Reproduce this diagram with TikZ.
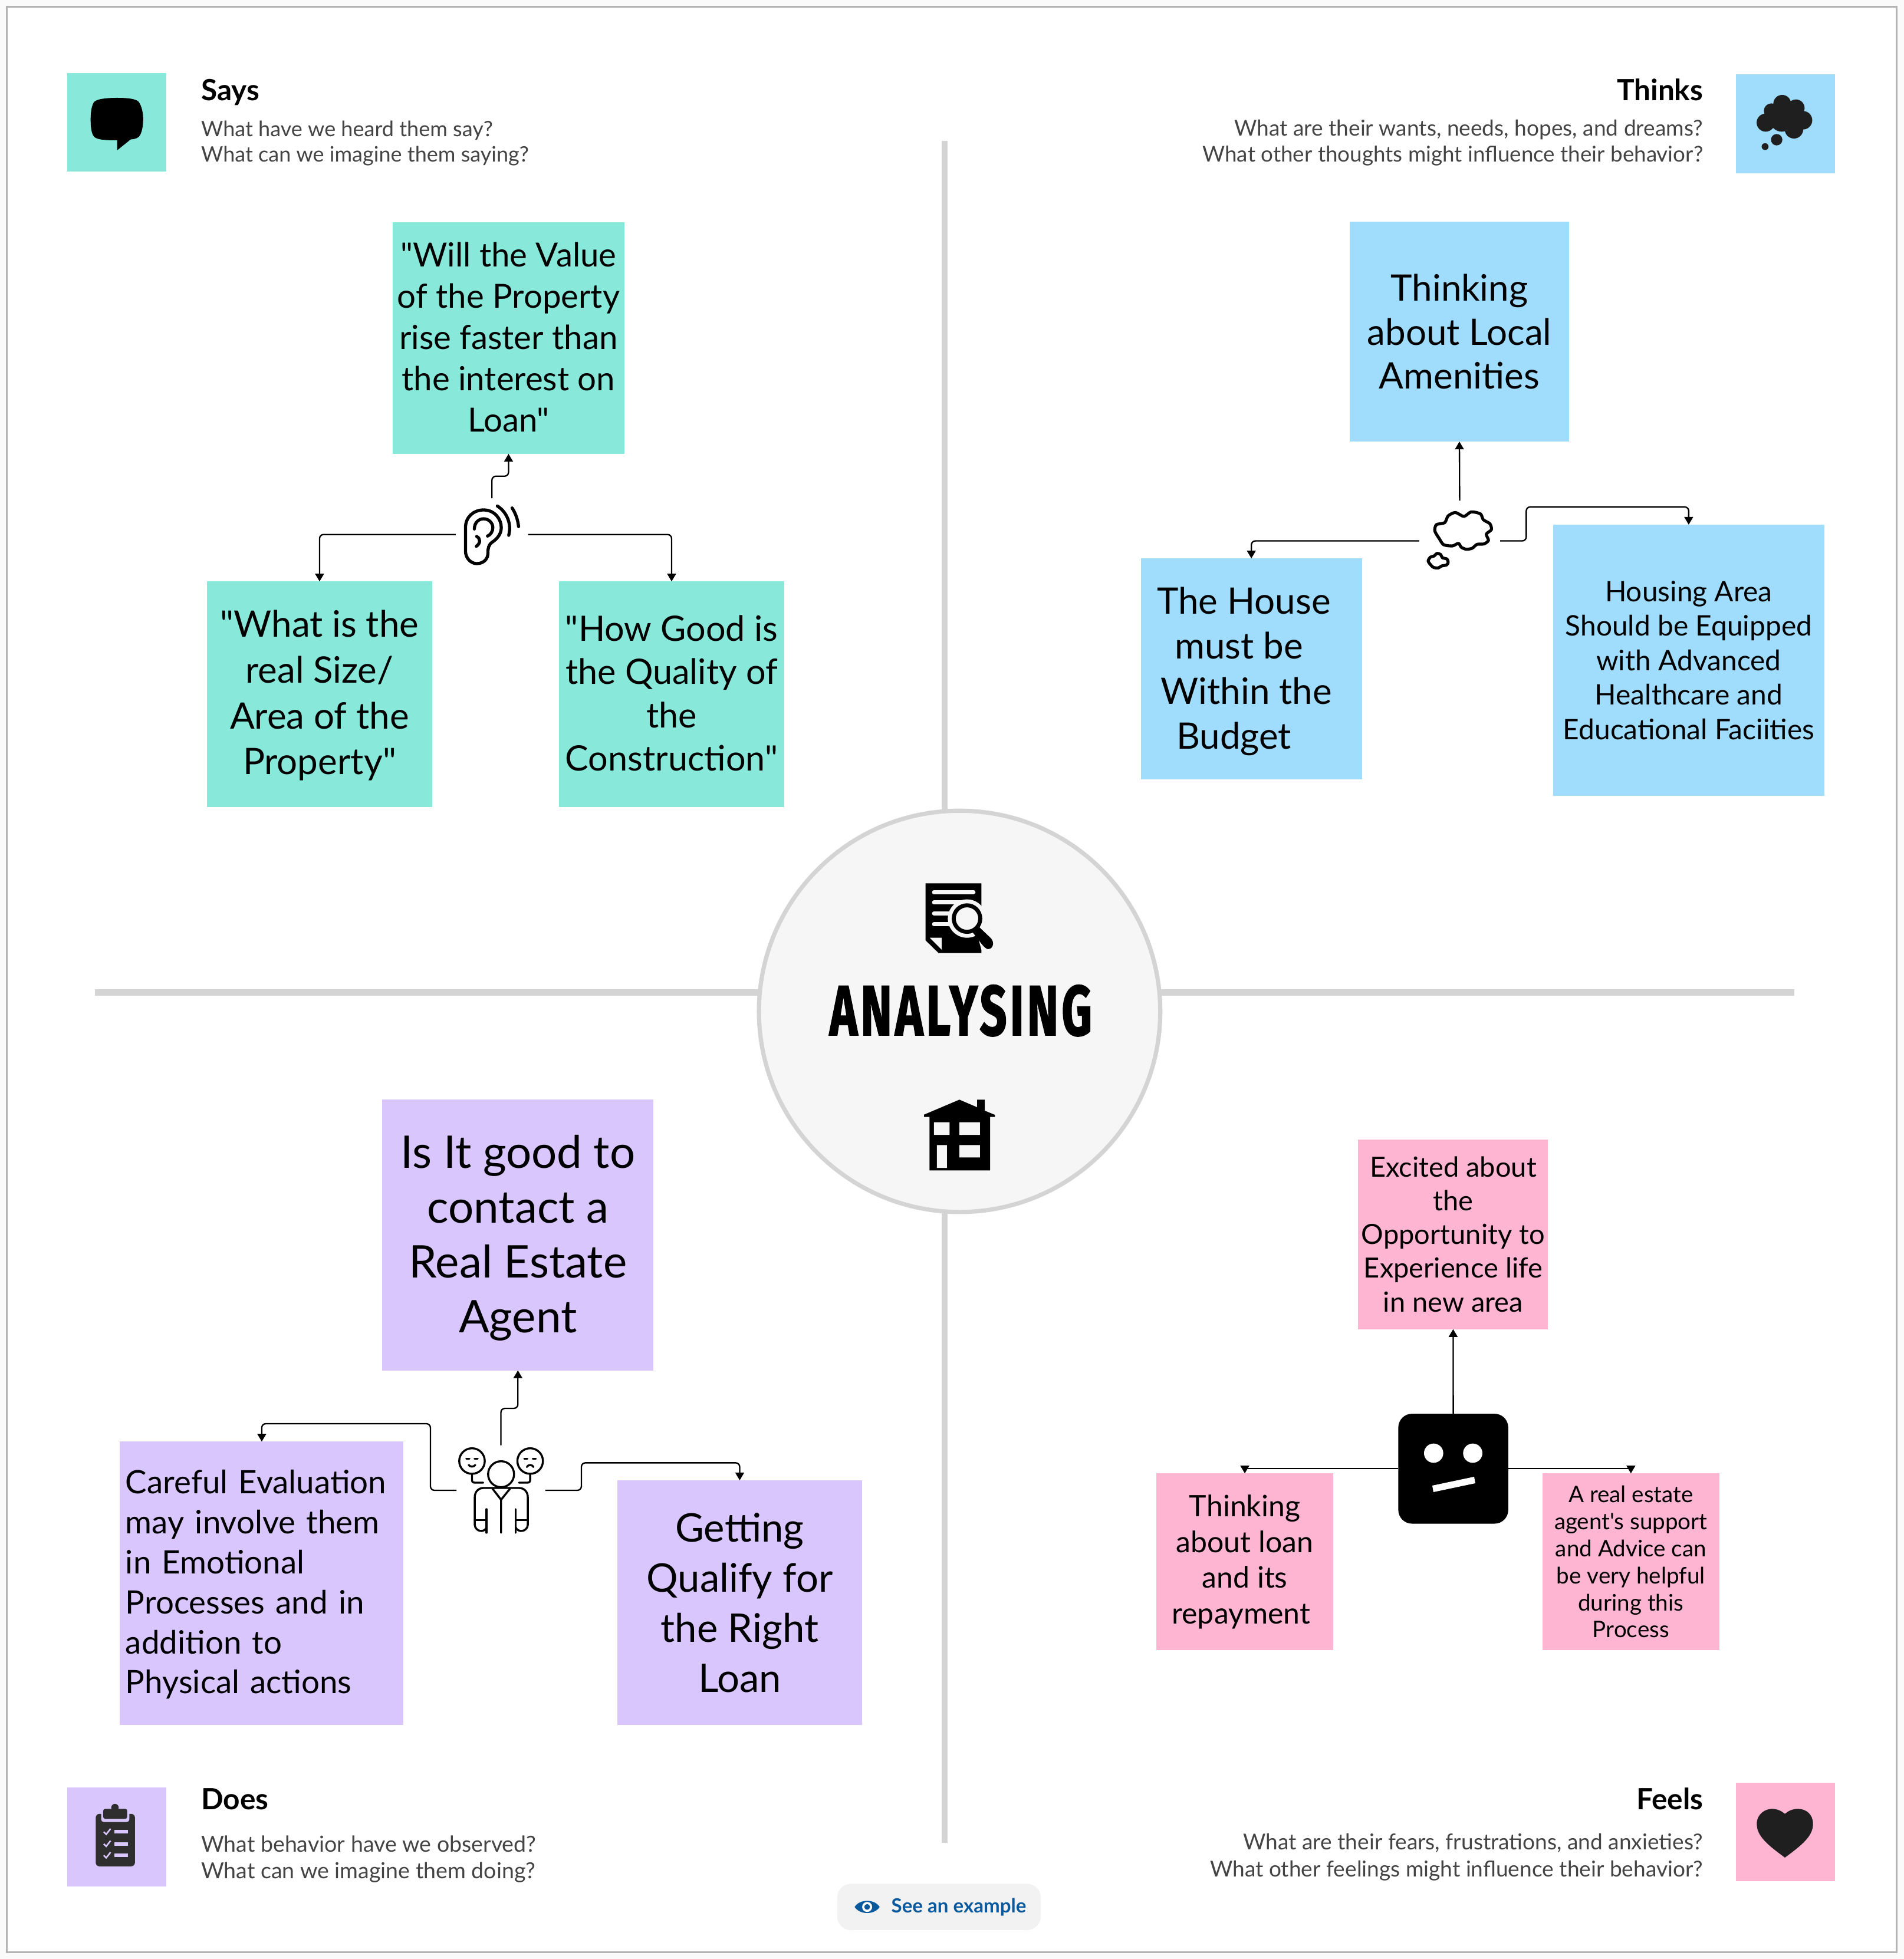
\documentclass[tikz,border=0pt]{standalone}
\usepackage{fontspec}
\usepackage{graphicx}
\usetikzlibrary{arrows.meta}
\setmainfont{Lato}
\newfontfamily\lato{Lato}
\newfontfamily\titlefont[FakeBold=2,LetterSpace=7]{Fira Sans}
\definecolor{teal}{HTML}{88E8DA}
\definecolor{sky}{HTML}{A0DCFB}
\definecolor{pinkb}{HTML}{FDB5D2}
\definecolor{lilac}{HTML}{D8C6FD}
\definecolor{rulegray}{HTML}{D4D4D4}
\definecolor{framegray}{HTML}{B3B3B3}
\definecolor{bgc}{HTML}{F6F6F6}
\definecolor{subtxt}{HTML}{444444}
\definecolor{icondark}{HTML}{1F1F1F}
\definecolor{linkblue}{HTML}{0B5A9E}
\newcommand\fz[2]{\lato\fontsize{#1pt}{#2pt}\selectfont}
\newcommand\dn[2]{\setbox0=\hbox{#2}\rule{0pt}{\dimexpr\ht0+#1\relax}\box0}
\tikzset{
  x=0.5pt,y=-0.5pt,
  note/.style={inner sep=0pt,outer sep=0pt,align=center,text=black},
  conn/.style={line width=0.55pt,rounded corners=1.6pt,-{Triangle[length=3.1pt,width=3.5pt]}},
  slot/.style={inner sep=0pt,outer sep=0pt},
  ttl/.style={inner sep=0pt,outer sep=0pt,font=\bfseries\fz{11.7}{13}},
  sub/.style={inner sep=0pt,outer sep=0pt,text=subtxt,font=\fz{8.75}{10.3}},
  divider/.style={rulegray,line width=2.5pt},
  iconline/.style={line cap=round,line join=round},
}
\begin{document}
\begin{tikzpicture}
\useasboundingbox (0,0) rectangle (1523.8,1568.2);
\fill[fill=black!2] (0,0) rectangle (1523.8,1568.2);
\draw[framegray,fill=white,line width=0.65pt] (5.6,5.5) rectangle (1518,1562.8);
% dividers
\coordinate (vt) at (756,113);\coordinate (vb) at (756,1475);
\coordinate (hl) at (76,794.5);\coordinate (hr) at (1436,794.5);
\draw[divider] (vt)--(vb);
\draw[divider] (hl)--(hr);
\node[circle,draw=rulegray,fill=bgc,line width=1.7pt,minimum size=160.6pt,inner sep=0pt,outer sep=0pt] (hub) at (768,809.6) {};
% hub icons (zoom coordinates)
\begin{scope}[shift={(589.9,637.1)},scale=0.2258]
 \fill[black] (668,310)--(866,310)--(866,557)--(714,557)--(668,512)--cycle;
 \draw[bgc,line width=1.6pt,line cap=round] (698,341)--(838,341) (698,378)--(800,378) (698,417)--(760,417) (698,455)--(760,455);
 \fill[bgc] (683,503)--(725,503)--(725,545)--cycle;
 \fill[bgc] (815,435) circle (68);
 \fill[bgc] (845,470)--(880,440)--(930,500)--(930,560)--(866,545)--cycle;
 \draw[black,line width=1.6pt] (815,435) circle (47);
 \fill[black] (858,465)--(900,505) .. controls (915,522) and (905,545) .. (888,543) .. controls (875,540) and (860,515) .. (836,485)--cycle;
 \fill[black] (663,1130)--(788,1077)--(851,1104)--(851,1077)--(878,1077)--(878,1116)--(914,1131)--(914,1138)--(897,1138)--(897,1328)--(682,1328)--(682,1138)--(663,1138)--cycle;
 \fill[bgc] (698,1157) rectangle (753,1202) (788,1157) rectangle (861,1202) (708,1238) rectangle (744,1319) (788,1238) rectangle (861,1282);
\end{scope}
\node[inner sep=0pt] (hubtitle) at (769,809) {\resizebox{105pt}{20pt}{\titlefont\bfseries ANALYSING}};
% Says
\node[note,fill=teal,minimum size=39.5pt] (saysbox) at (93.5,98) {};
\begin{scope}[shift={(0,0)},xscale=0.3312,yscale=0.1573]
 \fill[black] (283,498) .. controls (310,498) and (328,503) .. (335,518) .. controls (343,540) and (346,580) .. (346,605) .. controls (346,640) and (343,680) .. (335,697) .. controls (328,708) and (320,709) .. (316,709) -- (283,765) -- (283,714) .. controls (250,714) and (235,710) .. (228,697) .. controls (220,680) and (219,640) .. (219,605) .. controls (219,570) and (222,530) .. (228,518) .. controls (235,503) and (258,498) .. (283,498) -- cycle;
\end{scope}
\node[ttl,anchor=base west] (saysttl) at (161,80.5) {Says};
\node[sub,font=\fz{8.5}{10.3},anchor=base west] (says1) at (161,109.2) {What have we heard them say?};
\node[sub,font=\fz{8.5}{10.3},anchor=base west] (says2) at (161,129.7) {What can we imagine them saying?};
% Thinks
\node[note,fill=sky,minimum size=39.6pt] (thinksbox) at (1429,99) {};
\begin{scope}[shift={(1368.6,47.2)},scale=0.1573]
 \fill[icondark] (283,324) circle (46) (312,264) circle (38) (367,228) circle (45) (437,250) circle (44) (473,312) circle (47) (427,358) circle (47) (365,310) circle (60) (420,300) circle (50) (339,411) circle (29) (280,446) circle (17.5);
\end{scope}
\node[ttl,anchor=base east] (thinksttl) at (1363,80.5) {Thinks};
\node[sub,anchor=base east] (thinks1) at (1363,108.8) {What are their wants, needs, hopes, and dreams?};
\node[sub,font=\fz{8.68}{10.3},anchor=base east] (thinks2) at (1363,129.7) {What other thoughts might influence their behavior?};
% Does
\node[note,fill=lilac,minimum size=39.5pt] (doesbox) at (93.5,1470.5) {};
\fill[black!82,rounded corners=1.5pt] (76.6,1452) rectangle (108,1494);
\fill[lilac,rounded corners=1pt] (81,1449) rectangle (103.5,1458.5);
\fill[black!82,rounded corners=0.8pt] (82.6,1448) rectangle (101.8,1456);
\fill[black!82] (92,1447) circle (3);
\foreach \yy in {1466.4,1476,1485.2}{
 \fill[lilac] (91.5,\yy-1.4) rectangle (102.4,\yy+1.4);
 \draw[lilac,line width=0.6pt] (83,\yy) -- (85,\yy+2) -- (88.5,\yy-2.5);
}
\node[ttl,anchor=base west] (doesttl) at (161,1448.5) {Does};
\node[sub,font=\fz{8.85}{10.3},anchor=base west] (does1) at (161,1482.3) {What behavior have we observed?};
\node[sub,font=\fz{8.85}{10.3},anchor=base west] (does2) at (161,1503.8) {What can we imagine them doing?};
% Feels
\node[note,fill=pinkb,minimum size=39.6pt] (feelsbox) at (1429,1466.5) {};
\fill[icondark] (1428.5,1487) .. controls (1415,1477) and (1406,1470) .. (1406,1460) .. controls (1406,1452) and (1413,1448) .. (1418,1448) .. controls (1423,1448) and (1426,1450) .. (1428.5,1452) .. controls (1431,1450) and (1434,1448) .. (1439,1448) .. controls (1445,1448) and (1451,1452) .. (1451,1460) .. controls (1451,1470) and (1442,1477) .. (1428.5,1487) -- cycle;
\node[ttl,anchor=base east] (feelsttl) at (1363,1448.5) {Feels};
\node[sub,anchor=base east] (feels1) at (1363,1480.8) {What are their fears, frustrations, and anxieties?};
\node[sub,anchor=base east] (feels2) at (1363,1502.3) {What other feelings might influence their behavior?};
% example pill
\node[fill=black!5,rounded corners=5.5pt,minimum width=81.5pt,minimum height=18.5pt,inner sep=0pt] (pill) at (751.5,1526.5) {};
\node[inner sep=0pt,anchor=base west,text=linkblue,font=\bfseries\fz{7.8}{9}] (pilltext) at (713,1531) {See an example};
\fill[linkblue] (684,1526.5) .. controls (688,1520) and (700,1520) .. (704,1526.5) .. controls (700,1533) and (688,1533) .. (684,1526.5) -- cycle;
\fill[white] (694,1526.5) circle (4);
\fill[linkblue] (694,1526.5) circle (2.3);
% stickies
\node[note,fill=teal,minimum size=92.8pt,font=\fz{13.3}{16.5}] (s1) at (407,270.5) {"Will the Value\\of the Property\\rise faster than\\the interest on\\Loan"\rule[-0.75pt]{0pt}{0pt}};
\node[note,fill=teal,minimum size=90.3pt,font=\fz{14.6}{18.3}] (s2) at (255.75,555.75) {\dn{1pt}{"What is the}\\real Size/\\Area of the\\Property"};
\node[note,fill=teal,minimum size=90.3pt,font=\fz{14}{17.3}] (s3) at (537.5,555.75) {"How Good is\\the Quality of\\the\\Construction"\rule[-1pt]{0pt}{0pt}};
\node[note,fill=sky,minimum size=88pt,font=\fz{14.6}{17.5}] (t1) at (1168,265.5) {Thinking\\about Local\\Amenities};
\node[note,fill=sky,minimum size=88.5pt,font=\fz{14.6}{18}] (t2) at (1001.5,535.5) {\dn{2pt}{\mbox{The House\kern6pt}}\\\mbox{must be\kern10pt}\\\mbox{Within the\kern4pt}\\\mbox{Budget\kern14pt}};
\node[note,fill=sky,minimum size=108.5pt,font=\fz{11.3}{13.8}] (t3) at (1351.5,528.5) {Housing Area\\Should be Equipped\\with Advanced\\Healthcare and\\Educational Faciities};
\node[note,fill=pinkb,minimum size=76pt,font=\fz{11.1}{13.5}] (f1) at (1163,988) {Excited about\\the\\Opportunity to\\Experience life\\in new area};
\node[note,fill=pinkb,minimum size=70.8pt,font=\fz{11.8}{14.35}] (f2) at (996.25,1250.25) {Thinking\\about loan\\and its\\repayment\hspace*{3pt}};
\node[note,fill=pinkb,minimum size=70.8pt,font=\fz{9.1}{10.8}] (f3) at (1305.25,1250.25) {A real estate\\agent's support\\and Advice can\\be very helpful\\during this\\Process};
\node[note,fill=lilac,minimum size=108.5pt,font=\fz{18}{22}] (d1) at (414.5,988.5) {\dn{2.5pt}{Is It good to}\\contact a\\Real Estate\\Agent};
\node[note,fill=lilac,minimum size=113.5pt,text width=109pt,align=left,font=\fz{12.9}{16}] (d2) at (209.5,1267.5) {\dn{1pt}{Careful Evaluation}\\may involve them\\in Emotional\\Processes and in\\addition to\\Physical actions};
\node[note,fill=lilac,minimum size=98pt,font=\fz{15.8}{20}] (d3) at (592,1283) {Getting\\Qualify for\\the Right\\Loan};
% centre icons as nodes
\node[slot,minimum width=29pt,minimum height=29.1pt] (ear) at (393.7,427.9) {};
\node[slot,minimum width=32.4pt,minimum height=32.3pt] (cloud) at (1168.2,433) {};
\node[slot,minimum width=35.6pt,minimum height=36pt] (people) at (400.9,1193) {};
\node[slot,fill=black,rounded corners=5.5pt,minimum width=44pt,minimum height=44pt] (robot) at (1163.1,1175.7) {};
% ear
\begin{scope}[shift={(330.4,368.1)},scale=0.1573,iconline,line width=1.25pt]
 \draw (268,465) -- (268,345) .. controls (268,290) and (310,255) .. (360,255) .. controls (415,255) and (450,300) .. (450,345) .. controls (450,380) and (425,405) .. (405,418) .. controls (385,432) and (382,450) .. (382,475) .. controls (382,505) and (360,528) .. (325,528) .. controls (295,528) and (268,500) .. (268,465) -- cycle;
 \draw (313,352) .. controls (313,320) and (335,300) .. (360,300) .. controls (385,300) and (407,320) .. (407,345) .. controls (407,365) and (395,382) .. (380,388);
 \draw (325,390) .. controls (345,400) and (345,425) .. (323,440);
 \draw (430,235) .. controls (470,260) and (505,315) .. (488,384);
 \draw (505,245) .. controls (525,275) and (535,310) .. (538,340);
\end{scope}
% cloud
\begin{scope}[shift={(1109,368.1)},scale=0.1573,line width=1.2pt,line join=round]
 \draw plot[smooth cycle,tension=0.45] coordinates {(250,362)(258,330)(300,320)(318,285)(355,268)(398,288)(435,265)(482,275)(497,305)(530,325)(538,355)(512,378)(523,410)(500,428)(465,430)(440,450)(410,455)(385,445)(370,425)(340,438)(295,432)(272,400)};
 \draw plot[smooth cycle,tension=0.45] coordinates {(216,515)(228,495)(245,490)(262,476)(280,482)(288,498)(312,505)(318,522)(310,535)(285,540)(268,550)(245,548)(232,538)};
\end{scope}
% people
\begin{scope}[shift={(330.4,1109)},scale=0.1573,iconline,line width=0.8pt]
 \draw (301,385) circle (65) (597,385) circle (65) (449,452) circle (66);
 \draw (301,452) -- (301,480) .. controls (301,490) and (305,495) .. (315,495) -- (358,495);
 \draw (597,452) -- (597,480) .. controls (597,490) and (593,495) .. (583,495) -- (540,495);
 \draw (272,373)--(288,373) (314,373)--(330,373) (567,373)--(583,373) (610,373)--(626,373);
 \draw (284,405) .. controls (292,416) and (310,416) .. (318,405);
 \draw (580,415) .. controls (588,402) and (606,402) .. (614,415);
 \draw (315,710) -- (315,570) .. controls (315,540) and (335,522) .. (360,522) -- (540,522) .. controls (565,522) and (585,540) .. (585,570) -- (585,710);
 \draw (315,685)--(375,685) (375,630)--(375,750) (523,630)--(523,750) (523,685)--(585,685);
 \draw (315,710) .. controls (318,745) and (365,752) .. (375,722);
 \draw (585,710) .. controls (582,745) and (535,752) .. (523,722);
 \draw (405,525) -- (449,582) -- (495,525) (449,582)--(449,750);
\end{scope}
% robot face
\begin{scope}[shift={(1085.4,1109)},scale=0.1573]
 \fill[white] (394,345) circle (49) (593,345) circle (49);
 \fill[white] (387,510)--(600,465)--(606,498)--(393,543)--cycle;
\end{scope}
% connectors
\draw[conn] (ear.north) -- ++(0,-17.6) -| (s1.south);
\draw[conn] (ear.west) -| (s2.north);
\draw[conn] (ear.east) -| (s3.north);
\draw[conn] (cloud.north) -- (t1.south);
\draw[conn] (cloud.west) -| (t2.north);
\draw[conn] (cloud.east) -- ++(20.9,0) -- ++(0,-27.2) -| (t3.north);
\draw[conn] (people.north) -- ++(0,-29.6) -| (d1.south);
\draw[conn] (people.west) -- ++(-20.8,0) -- ++(0,-53.3) -| (d2.north);
\draw[conn] (people.east) -- ++(28.8,0) -- ++(0,-22) -| (d3.north);
\draw[conn] (robot.north) -- (f1.south);
\draw[conn,rounded corners=0pt] (robot.west) -| (f2.north);
\draw[conn,rounded corners=0pt] (robot.east) -| (f3.north);
\end{tikzpicture}
\end{document}
